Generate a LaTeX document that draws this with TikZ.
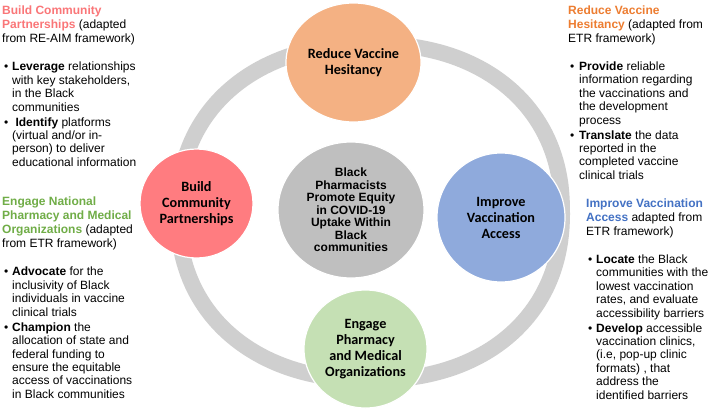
\documentclass[tikz,border=0pt]{standalone}
\usepackage{fontspec}
\setmainfont{Liberation Sans}
\newfontfamily\calfont{Carlito}
\usetikzlibrary{shapes.geometric}
\definecolor{ringgray}{RGB}{207,207,207}
\definecolor{corange}{RGB}{244,177,131}
\definecolor{cred}{RGB}{255,124,128}
\definecolor{cblue}{RGB}{143,170,220}
\definecolor{cgreen}{RGB}{197,224,180}
\definecolor{cgray}{RGB}{191,191,191}
\definecolor{tred}{RGB}{250,118,120}
\definecolor{torange}{RGB}{237,125,49}
\definecolor{tgreen}{RGB}{112,173,71}
\definecolor{tblue}{RGB}{68,114,196}
\newcommand{\bi}[2]{\hspace*{#1}\makebox[#2][l]{•}}
\newcommand{\bc}[1]{\hspace*{#1}}
\tikzset{
  bub/.style={ellipse, draw=white, line width=1.2pt, inner sep=0pt, align=center,
    font=\calfont\bfseries\fontsize{14.2}{16}\selectfont, text=black},
  side/.style={anchor=north west, inner sep=0pt, align=left,
    font=\fontsize{12}{13.4}\selectfont, text=black},
}
\begin{document}
\begin{tikzpicture}[x=1pt, y=-1pt]
\path[use as bounding box, fill=white] (0,0) rectangle (709,410);
% ring
\draw[ringgray, line width=16pt, line join=round] plot[domain=0.5:360.5, samples=181]
  ({371 + (cos(\x)>0 ? 191 : -193)*pow(abs(cos(\x)),0.909)},
   {212 + (sin(\x)>0 ? 168 : -168)*pow(abs(sin(\x)),0.909)}) -- cycle;
% circles
\node[bub, fill=corange, minimum width=135pt, minimum height=119pt] (hes) at (353.5,62.5) {Reduce Vaccine\\Hesitancy};
\node[bub, fill=cgray, minimum width=146pt, minimum height=136pt,
  font=\bfseries\fontsize{12}{12.5}\selectfont] (mid) at (351,210)
  {Black\\Pharmacists\\Promote Equity\\in COVID-19\\Uptake Within\\Black\\communities};
\node[bub, fill=cred, minimum width=113pt, minimum height=109pt] (bcp) at (196.5,203.5) {Build\\Community\\Partnerships};
\node[bub, fill=cblue, minimum width=128pt, minimum height=129pt] (iva) at (501,217.5) {Improve\\Vaccination\\Access};
\node[bub, fill=cgreen, minimum width=123pt, minimum height=118pt] (epm) at (365.5,349) {Engage\\Pharmacy\\and Medical\\Organizations};
% side texts
\node[side] (tl) at (2,6) {%
\textcolor{tred}{\textbf{Build Community}}\\[0.6pt]
\textcolor{tred}{\textbf{Partnerships}} (adapted\\[0.6pt]
from RE-AIM framework)\\[14.6pt]
\bi{2pt}{8pt}\textbf{Leverage} relationships\\
\bc{10pt}with key stakeholders,\\
\bc{10pt}in the Black\\
\bc{10pt}communities\\[1.7pt]
\bi{2pt}{8pt} \textbf{Identify} platforms\\
\bc{10pt}(virtual and/or in-\\
\bc{10pt}person) to deliver\\
\bc{10pt}educational information};
\node[side] (bl) at (2,197) {%
\textcolor{tgreen}{\textbf{Engage National}}\\[0.6pt]
\textcolor{tgreen}{\textbf{Pharmacy and Medical}}\\[0.6pt]
\textcolor{tgreen}{\textbf{Organizations}} (adapted\\[0.6pt]
from ETR framework)\\[14.6pt]
\bi{2pt}{8pt}\textbf{Advocate} for the\\
\bc{10pt}inclusivity of Black\\
\bc{10pt}individuals in vaccine\\
\bc{10pt}clinical trials\\[1.7pt]
\bi{2pt}{8pt}\textbf{Champion} the\\
\bc{10pt}allocation of state and\\
\bc{10pt}federal funding to\\
\bc{10pt}ensure the equitable\\
\bc{10pt}access of vaccinations\\
\bc{10pt}in Black communities};
\node[side] (tr) at (568,5.5) {%
\textcolor{torange}{\textbf{Reduce Vaccine}}\\[0.6pt]
\textcolor{torange}{\textbf{Hesitancy}} (adapted from\\[0.6pt]
ETR framework)\\[14.6pt]
\bi{2pt}{9pt}\textbf{Provide} reliable\\
\bc{11pt}information regarding\\
\bc{11pt}the vaccinations and\\
\bc{11pt}the development\\
\bc{11pt}process\\[1.7pt]
\bi{2pt}{9pt}\textbf{Translate} the data\\
\bc{11pt}reported in the\\
\bc{11pt}completed vaccine\\
\bc{11pt}clinical trials};
\node[side] (br) at (586,198.5) {%
\textcolor{tblue}{\textbf{Improve Vaccination}}\\[0.6pt]
\textcolor{tblue}{\textbf{Access}} adapted from\\[0.6pt]
ETR framework)\\[14.6pt]
\bi{2pt}{8pt}\textbf{Locate} the Black\\
\bc{10pt}communities with the\\
\bc{10pt}lowest vaccination\\
\bc{10pt}rates, and evaluate\\
\bc{10pt}accessibility barriers\\[1.7pt]
\bi{2pt}{8pt}\textbf{Develop} accessible\\
\bc{10pt}vaccination clinics,\\
\bc{10pt}(i.e, pop-up clinic\\
\bc{10pt}formats) , that\\
\bc{10pt}address the\\
\bc{10pt}identified barriers};
\end{tikzpicture}
\end{document}
